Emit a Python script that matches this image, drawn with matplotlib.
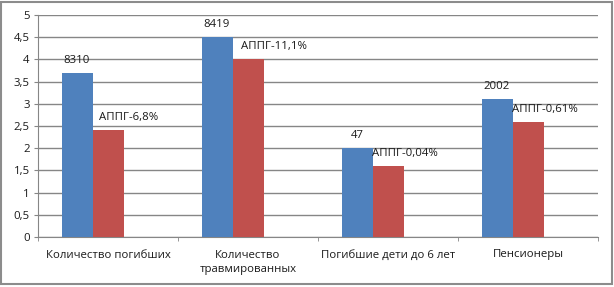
import matplotlib
matplotlib.use("Agg")
import matplotlib.pyplot as plt
import numpy as np
from matplotlib.patches import Rectangle
from matplotlib.ticker import FuncFormatter, MultipleLocator

categories = ["Количество погибших", "Количество\nтравмированных", "Погибшие дети до 6 лет", "Пенсионеры"]
current = [3.7, 4.5, 2.0, 3.1]
previous = [2.4, 4.0, 1.6, 2.6]
current_labels = ["8310", "8419", "47", "2002"]
previous_labels = ["АППГ-6,8%", "АППГ-11,1%", "АППГ-0,04%", "АППГ-0,61%"]

plt.rcParams['font.family'] = ['Open Sans', 'DejaVu Sans']
BLUE = "#4F81BD"
RED = "#C0504D"
GRID = "#868686"
FS = 8.2

fig = plt.figure(figsize=(6.14, 2.87), dpi=100)
ax = fig.add_axes([38/614, 1-237/287, 560/614, 222/287])

x = np.arange(len(categories))
w = 31/140
ax.bar(x - w, current, width=w, color=BLUE, zorder=3)
ax.bar(x, previous, width=w, color=RED, zorder=3)

for i in range(len(categories)):
    ax.annotate(current_labels[i], (x[i] - w, current[i]), xytext=(0, 5),
                textcoords="offset points", ha="center", va="bottom", fontsize=FS, color="#1a1a1a")
lbl_dx = [5, 6, 0, 0]
for i in range(len(categories)):
    ax.annotate(previous_labels[i], (x[i] - w/2, previous[i]), xytext=(lbl_dx[i], 5),
                textcoords="offset points", ha="left", va="bottom", fontsize=FS, color="#1a1a1a")

ax.set_xlim(-0.5, len(categories) - 0.5)
ax.set_ylim(0, 5)
ax.yaxis.set_major_locator(MultipleLocator(0.5))
ax.yaxis.set_major_formatter(FuncFormatter(lambda v, p: ("%g" % v).replace(".", ",")))
ax.grid(axis="y", color=GRID, linewidth=1, zorder=0)
ax.set_axisbelow(True)

ax.set_xticks(x)
ax.set_xticklabels(categories, fontsize=FS, linespacing=1.4, color="#1a1a1a")
ax.tick_params(axis="x", length=0, pad=9)
ax.set_xticks(np.arange(len(categories) + 1) - 0.5, minor=True)
ax.tick_params(axis="x", which="minor", length=3, color=GRID, direction="out")
ax.tick_params(axis="y", length=3, color=GRID, labelsize=FS, labelcolor="#1a1a1a", pad=3)

for s in ["top", "right"]:
    ax.spines[s].set_visible(False)
ax.spines["left"].set_color(GRID)
ax.spines["bottom"].set_color(GRID)

fig.patches.append(Rectangle((1/614, 3/287), 611/614, 282/287, transform=fig.transFigure,
                             fill=False, edgecolor="#8c8c8c", linewidth=1.5))

fig.savefig("out.png", dpi=100)
